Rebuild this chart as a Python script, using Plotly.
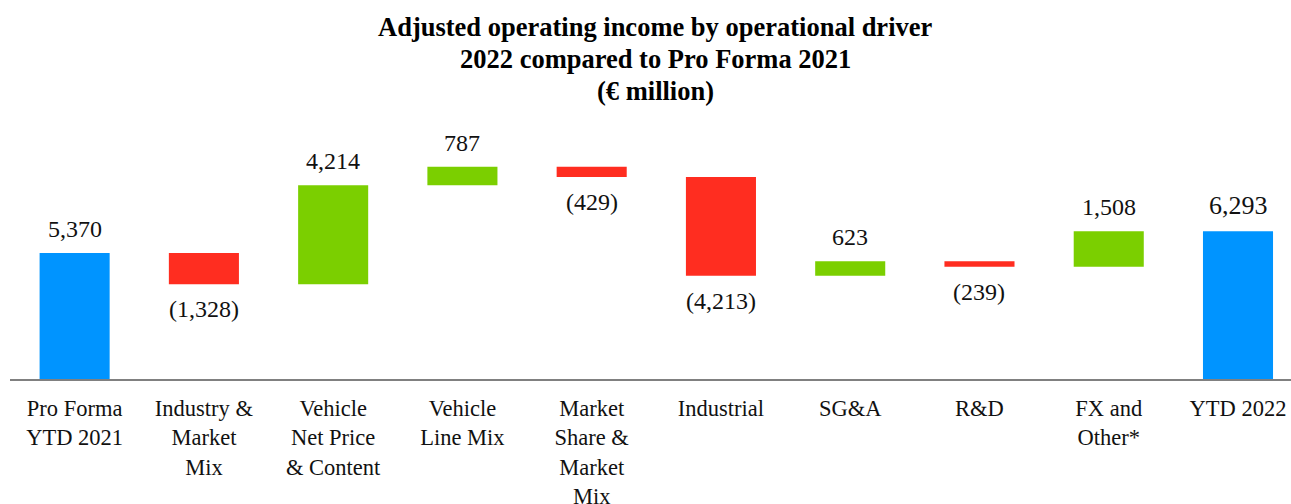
import plotly.graph_objects as go

categories = ["Pro Forma<br>YTD 2021", "Industry &<br>Market<br>Mix", "Vehicle<br>Net Price<br>& Content",
              "Vehicle<br>Line Mix", "Market<br>Share &<br>Market<br>Mix", "Industrial", "SG&A", "R&D",
              "FX and<br>Other*", "YTD 2022"]
values = [5370, -1328, 4214, 787, -429, -4213, 623, -239, 1508, 6293]
measures = ["absolute", "relative", "relative", "relative", "relative", "relative", "relative", "relative",
            "relative", "total"]
title_lines = ["Adjusted operating income by operational driver",
               "2022 compared to Pro Forma 2021",
               "(€ million)"]

BLUE = "#0094FF"
RED = "#FF2D20"
GREEN = "#7BCF00"
FONT = "Liberation Serif"
TXT = "#111111"

MT, MB = 105, 125
PLOT_H = 504 - MT - MB

fig = go.Figure()
fig.add_trace(go.Waterfall(
    x=categories, y=values, measure=measures,
    increasing=dict(marker=dict(color=GREEN)),
    decreasing=dict(marker=dict(color=RED)),
    totals=dict(marker=dict(color=BLUE)),
    connector=dict(visible=False),
    width=0.542,
    base=0,
    hoverinfo="skip",
))

# value labels
running = 0
for c, v, m in zip(categories, values, measures):
    if m == "absolute":
        start, end = 0, v
        running = v
    elif m == "total":
        start, end = 0, running
    else:
        start, end = running, running + v
        running += v
    top = max(start, end)
    bot = min(start, end)
    if v >= 0:
        fig.add_annotation(x=c, y=top, text=f"{v:,}", showarrow=False, yanchor="bottom", yshift=9,
                           font=dict(family=FONT, size=26 if m == "total" else 24, color=TXT))
    else:
        fig.add_annotation(x=c, y=bot, text=f"({-v:,})", showarrow=False, yanchor="top", yshift=-10,
                           font=dict(family=FONT, size=24, color=TXT))

# title (three lines)
for line, py in zip(title_lines, [27, 59, 91]):
    fig.add_annotation(xref="paper", yref="paper", x=(655 - 10) / 1281, y=(379 - py) / PLOT_H,
                       text=f"<b>{line}</b>", showarrow=False, xanchor="center", yanchor="middle",
                       font=dict(family=FONT, size=26.5, color="#000000"))

fig.update_layout(
    width=1291, height=504,
    margin=dict(l=10, r=0, t=MT, b=MB, autoexpand=False),
    paper_bgcolor="white", plot_bgcolor="white",
    showlegend=False,
    font=dict(family=FONT, size=22.5, color=TXT),
)
fig.update_xaxes(range=[-0.5, 9.41], showline=True, linecolor="#808080", linewidth=2,
                 showgrid=False, zeroline=False, ticks="", ticklabelstandoff=8, automargin=False,
                 tickfont=dict(family=FONT, size=22.5, color=TXT))
fig.update_yaxes(range=[0, 11680], visible=False, showgrid=False, zeroline=False, automargin=False)

fig.write_html("out.html")
